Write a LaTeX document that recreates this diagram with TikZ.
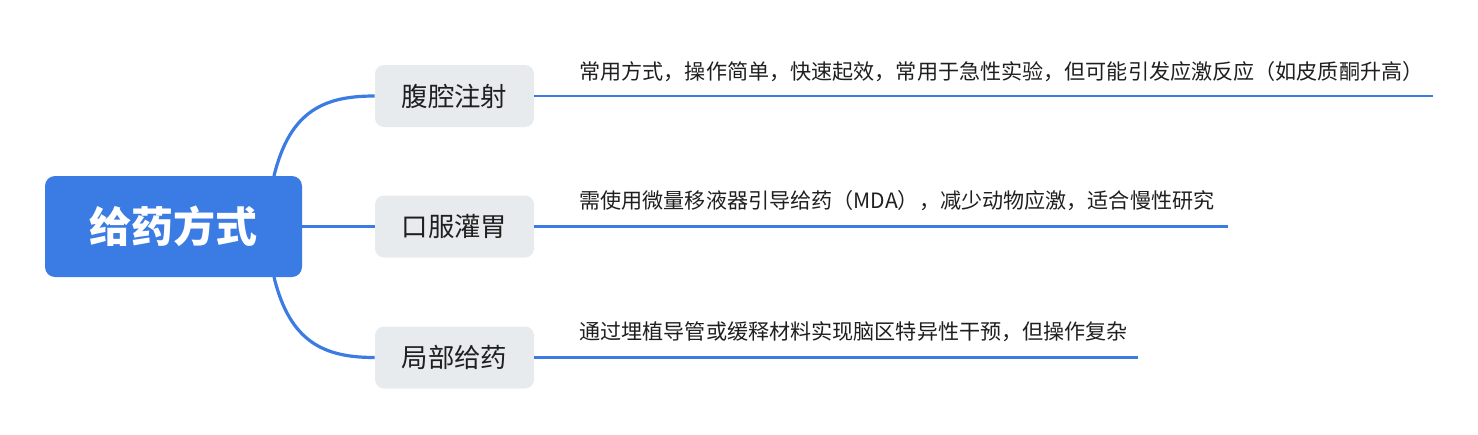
\documentclass[tikz,border=0pt]{standalone}
\usepackage{fontspec}
\setmainfont{Noto Sans CJK SC}
\definecolor{mblue}{HTML}{3A7BE4}
\definecolor{bgray}{HTML}{E8EBEE}
\definecolor{txt}{HTML}{1F1F1F}
\begin{document}
\begin{tikzpicture}[x=0.5pt,y=-0.5pt,
  rootbox/.style={fill=mblue,rounded corners=5pt,minimum width=128.5pt,minimum height=50.5pt,inner sep=0pt,text=white,font=\fontsize{21}{24}\selectfont\bfseries},
  branchbox/.style={fill=bgray,rounded corners=4.5pt,minimum width=79.5pt,minimum height=31pt,inner sep=0pt,text=txt,font=\fontsize{13.2}{16}\selectfont},
  leaftext/.style={anchor=west,inner sep=0pt,text=txt,font=\fontsize{10.55}{12}\selectfont},
  conn/.style={draw=mblue,line width=1.6pt},
  leafline/.style={draw=mblue,line width=1.4pt}]
\useasboundingbox (0,0) rectangle (1478,434);
\node[rootbox] (root) at (173.5,226.5) {给药方式};
\node[branchbox] (b1) at (454.5,96) {腹腔注射};
\node[branchbox] (b2) at (454.5,226.5) {口服灌胃};
\node[branchbox] (b3) at (454.5,357.5) {局部给药};
\coordinate (r1) at (274,176);
\coordinate (r3) at (274,277);
\draw[conn] (r1) .. controls (290,110) and (325,96) .. (b1.west);
\draw[conn] (root.east |- b2.west) -- (b2.west);
\draw[conn] (r3) .. controls (290,343) and (325,357.5) .. (b3.west);
\coordinate (e1) at (1433,96);
\coordinate (e2) at (1228,226.5);
\coordinate (e3) at (1138,357.5);
\draw[leafline] (b1.east) -- (e1);
\draw[leafline] (b2.east) -- (e2);
\draw[leafline] (b3.east) -- (e3);
\node[leaftext] (t1) at (579,72) {常用方式，操作简单，快速起效，常用于急性实验，但可能引发应激反应（如皮质酮升高）};
\node[leaftext] (t2) at (579,201) {需使用微量移液器引导给药（MDA），减少动物应激，适合慢性研究};
\node[leaftext] (t3) at (579,332) {通过埋植导管或缓释材料实现脑区特异性干预，但操作复杂};
\end{tikzpicture}
\end{document}
